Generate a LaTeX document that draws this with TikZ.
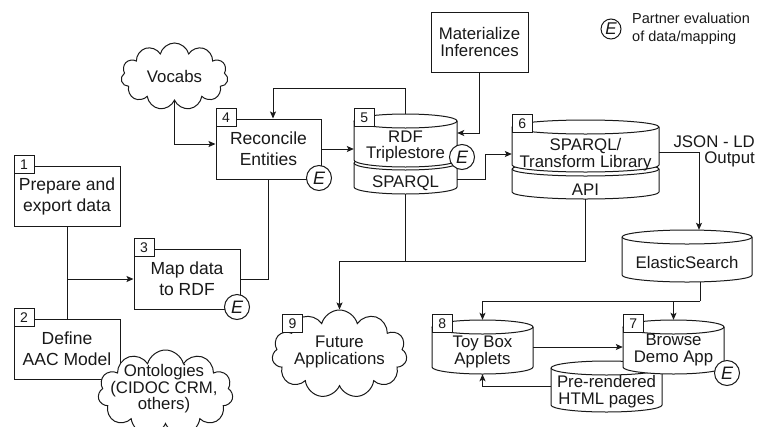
\documentclass[tikz,border=0pt]{standalone}
\usepackage{fontspec}
\setmainfont{Liberation Sans}
\usetikzlibrary{shapes.symbols,arrows.meta}

% body font: boxes use a loose line spacing, drums and clouds a tight one
\newcommand\boxfs{\fontsize{17.5}{21}\selectfont}
\newcommand\tightfs{\fontsize{16.8}{16.5}\selectfont}
\newcommand\tagfs{\fontsize{14}{14}\selectfont}

% drum (database cylinder): left x, top y, right x, bottom y (y measured downwards)
\newcommand\drum[4]{%
  \pgfmathsetmacro\drx{(#3-#1)/2}%
  \draw[wire, fill=white] (#1,{-(#2)-7}) -- (#1,{-(#4)+7})
     arc[start angle=180, end angle=360, x radius=\drx pt, y radius=7pt]
     -- (#3,{-(#2)-7})
     arc[start angle=0, end angle=180, x radius=\drx pt, y radius=7pt] -- cycle;
  \draw[wire] (#1,{-(#2)-7})
     arc[start angle=180, end angle=360, x radius=\drx pt, y radius=7pt];
}

\begin{document}
\begin{tikzpicture}[x=1pt, y=1pt, color=black!90,
  wire/.style={line width=1pt},
  arr/.style={wire, -{Stealth[length=7pt, width=6pt, inset=1.5pt]}},
  proc/.style={wire, draw, fill=white, rectangle, inner sep=0pt, align=center,
    font=\boxfs},
  tagbox/.style={wire, draw, fill=white, rectangle, minimum width=20pt,
    minimum height=18pt, inner sep=0pt, font=\tagfs, anchor=north west},
  evalmark/.style={wire, draw, fill=white, circle, minimum size=25pt,
    inner sep=0pt, font=\fontsize{18}{18}\selectfont\itshape},
  area/.style={rectangle, inner sep=0pt},
  label/.style={align=center, font=\tightfs, inner sep=0pt},
  puff/.style={wire, draw, fill=white, cloud, cloud puffs=11,
    cloud ignores aspect, inner sep=0pt}]

\useasboundingbox (0,0) rectangle (757,-426);

% ---------- process boxes ----------
\node[proc, minimum width=106pt, minimum height=60pt] (b1) at (67,-196)
  {Prepare and\\export data};
\node[tagbox] (t1) at ([yshift=10.5pt]b1.north west) {1};

\node[proc, minimum width=106pt, minimum height=60pt] (b2) at (67,-349)
  {Define\\AAC Model};
\node[tagbox] (t2) at ([yshift=10.5pt]b2.north west) {2};

\node[proc, minimum width=106pt, minimum height=60pt] (b3) at (187,-279)
  {Map data\\to RDF};
\node[tagbox] (t3) at ([yshift=10.5pt]b3.north west) {3};
\node[evalmark] (e3) at (237,-307) {E};

\node[proc, minimum width=105pt, minimum height=60pt] (b4) at (268.5,-149)
  {Reconcile\\Entities};
\node[tagbox] (t4) at ([yshift=10.5pt]b4.north west) {4};
\node[evalmark] (e4) at (319,-178) {E};

\node[proc, minimum width=97pt, minimum height=60pt, font=\tightfs] (mat)
  at (479.5,-42) {Materialize\\Inferences};

% ---------- clouds ----------
\node[puff, minimum width=107pt, minimum height=67pt] (voc) at (174.5,-76.5) {};
\node[label] (voctxt) at (174.5,-76) {Vocabs};

\node[puff, minimum width=135pt, minimum height=86pt] (onto) at (165.5,-393) {};
\node[label] (ontotxt) at (164,-389) {Ontologies\\(CIDOC CRM,\\others)};

\node[puff, minimum width=135pt, minimum height=88pt] (f9) at (339.5,-354) {};
\node[label] (f9txt) at (339.5,-352) {Future\\Applications};
\node[tagbox] (t9) at (282,-314) {9};

% ---------- triplestore drum (5) ----------
\drum{354}{156}{457}{194}
\drum{354}{114}{457}{167}
\node[area, minimum width=103pt, minimum height=80pt] (c5) at (405.5,-154) {};
\node[label] (c5top) at (405.5,-146.5) {RDF\\Triplestore};
\node[label] (c5bot) at (405.5,-183) {SPARQL};
\node[tagbox] (t5) at ([yshift=6pt]c5.north west) {5};
\node[evalmark] (e5) at (462,-157) {E};

% ---------- transform library drum (6) ----------
\drum{512}{162}{659}{199}
\drum{512}{120}{659}{172}
\node[area, minimum width=147pt, minimum height=79pt] (c6) at (585.5,-159.5) {};
\node[label] (c6top) at (585.5,-154.5) {SPARQL/\\Transform Library};
\node[label] (c6bot) at (585.5,-190) {API};
\node[tagbox] (t6) at ([yshift=6pt]c6.north west) {6};

\node[label, align=right, anchor=east] (json) at (755,-151.5) {JSON - LD\\Output};

% ---------- search index ----------
\drum{622}{230}{752}{282}
\node[area, minimum width=130pt, minimum height=52pt] (es) at (687,-256) {};
\node[label] (estxt) at (687,-262) {ElasticSearch};

% ---------- applications ----------
\drum{432}{320}{533}{374}
\node[area, minimum width=101pt, minimum height=54pt] (toy) at (482.5,-347) {};
\node[label] (toytxt) at (482.5,-352) {Toy Box\\Applets};
\node[tagbox] (t8) at ([yshift=6pt]toy.north west) {8};

\drum{551}{361}{662}{412}
\node[area, minimum width=111pt, minimum height=51pt] (pre) at (606.5,-386.5) {};
\node[label] (pretxt) at (606.5,-391.5) {Pre-rendered\\HTML pages};

\drum{623}{320}{724}{374}
\node[area, minimum width=101pt, minimum height=54pt] (app) at (673.5,-347) {};
\node[label] (apptxt) at (673.5,-350) {Browse\\Demo App};
\node[tagbox] (t7) at ([yshift=6pt]app.north west) {7};
\node[evalmark] (e7) at (727,-373) {E};

% ---------- legend ----------
\node[evalmark, minimum size=20pt, font=\fontsize{17}{17}\selectfont\itshape]
  (lege) at (611,-29) {E};
\node[align=left, anchor=west, inner sep=0pt, font=\fontsize{14.5}{18}\selectfont]
  (legtxt) at (632,-29) {Partner evaluation\\of data/mapping};

% ---------- connectors ----------
\draw[wire] (b1.south) -- (b2.north);
\coordinate (split) at (b1.south |- b3.west);
\draw[arr] (split) -- (b3.west);
\draw[arr] (voc.south) |- ([yshift=5pt]b4.west);
\draw[wire] (b3.east) -| (b4.south);
\draw[arr] (b4.east) -- (b4.east -| c5.west);
\draw[arr] (c5.north) -- ++(0,25) -| ([xshift=4.5pt]b4.north);
\draw[arr] (mat.south) |- ([yshift=21pt]c5.east);
\draw[arr] ([yshift=-25pt]c5.east) -- ++(28,0) |- ([yshift=5.5pt]c6.west);
\draw[arr] ([yshift=7.5pt]c6.east) -| ([xshift=12pt]es.north);

\coordinate (fut) at (f9.north |- 0,-261);
\draw[wire] (c5.south) -- (c5.south |- fut);
\draw[arr] (c6.south) |- (fut) -- (f9.north);

\coordinate (fan) at ([xshift=13pt]es.south |- 0,-301);
\draw[wire] ([xshift=13pt]es.south) -- (fan);
\draw[arr] (fan) -| (toy.north);
\draw[arr] (app.north |- fan) -- (app.north);
\draw[arr] (toy.east) -- (app.west);
\draw[arr] (pre.west) -| (toy.south);

\end{tikzpicture}
\end{document}
